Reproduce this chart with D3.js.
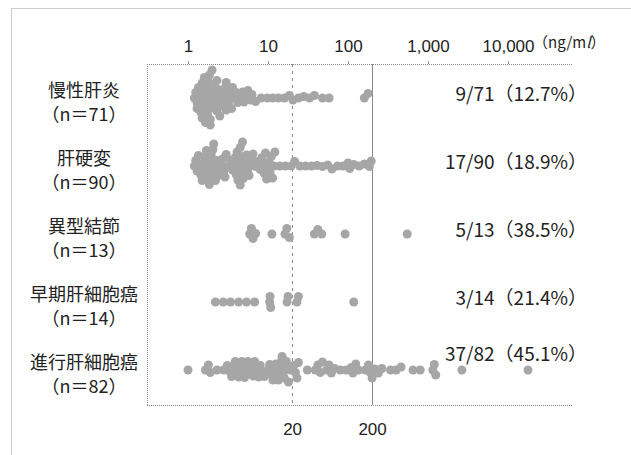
<!DOCTYPE html>
<html>
<head>
<meta charset="utf-8">
<script src="https://cdn.jsdelivr.net/npm/d3@7"></script>
<style>
  html, body { margin: 0; padding: 0; background: #fff; }
  svg { display: block; }
</style>
</head>
<body>
<svg id="chart" width="631" height="455"></svg>
<script>
// ---------------- DATA ----------------
const categories = ["慢性肝炎", "肝硬変", "異型結節", "早期肝細胞癌", "進行肝細胞癌"];
const sampleSizes = [71, 90, 13, 14, 82];
const positives = [9, 17, 5, 3, 37];
const percents = ["12.7", "18.9", "38.5", "21.4", "45.1"];
const tickValues = [1, 10, 100, 1000, 10000];
const refLines = [20, 200];
const unitLabel = "ng/ml";

const valuesChronicHepatitis = [
  1.2, 1.25, 1.3, 1.3, 1.35, 1.4, 1.45, 1.5, 1.5, 1.5, 1.55, 1.6, 1.6, 1.65, 1.7, 1.7, 1.75,
  1.8, 1.8, 1.8, 1.85, 1.9, 1.9, 2.0, 2.0, 2.0, 2.1, 2.1, 2.2, 2.3, 2.3, 2.4, 2.4, 2.5, 2.6,
  2.7, 2.8, 2.9, 3.0, 3.0, 3.1, 3.2, 3.3, 3.5, 3.6, 3.8, 4.0, 4.2, 4.5, 4.8, 5.0, 5.3, 5.6,
  6.0, 6.3,
  7.0, 8.2, 9.8, 11.5, 13.5, 16.0, 18.5,
  20.5, 24, 28, 33, 38, 48, 58, 160, 178
];
const valuesCirrhosis = [
  1.2, 1.25, 1.3, 1.35, 1.4, 1.45, 1.5, 1.55, 1.6, 1.65, 1.7, 1.7, 1.75, 1.8, 1.85, 1.9, 1.95,
  2.0, 2.0, 2.05, 2.1, 2.15, 2.2, 2.3, 2.4, 2.5, 2.6, 2.7, 2.8, 2.9,
  3.0, 3.2, 3.4, 3.6, 3.8,
  3.9, 4.0, 4.1, 4.2, 4.3, 4.4, 4.5, 4.5, 4.6, 4.7, 4.8, 4.9, 5.0, 5.2, 5.4, 5.6, 5.8, 6.0, 6.2,
  6.5, 7.0, 7.5, 8.0,
  8.4, 8.7, 9.0, 9.3, 9.6, 10, 10.3, 10.6, 11, 11.4, 11.8, 12.2,
  14, 16.5, 19.5,
  21.5, 25, 29.5, 35, 41, 48, 56,
  63, 74, 87, 100, 105, 118, 138, 160, 185, 195
];
const valuesDysplasticNodule = [5.9, 6.2, 6.5, 7.0, 11.2, 16.3, 17.2, 18.5, 38, 42, 47, 92, 550];
const valuesEarlyHCC = [2.2, 2.75, 3.4, 4.3, 5.4, 6.8, 10.5, 10.6, 10.8, 17.3, 17.8, 23, 24, 118];
const valuesAdvancedHCC = [
  1.0, 1.65, 1.8, 1.9, 2.3, 2.8,
  3.1, 3.3, 3.5, 3.7, 3.9, 4.1, 4.3, 4.5, 4.7, 4.9, 5.1, 5.3, 5.6, 5.9, 6.2, 6.5, 6.8, 7.2, 7.6, 8.0, 8.4,
  9.0,
  10, 10.5, 11, 11.5, 12, 12.5, 13, 13.5, 14, 14.5, 15, 15.5, 16, 16.5, 17, 18, 19,
  21, 22, 23, 24, 31,
  39, 42, 45, 48, 54, 58, 62,
  68, 80, 95, 110,
  115, 125, 135, 165, 180, 190, 200,
  215, 240, 265, 340, 400, 460,
  650, 800, 1150, 1200, 1250, 2650, 17800
];
const seriesValues = [valuesChronicHepatitis, valuesCirrhosis, valuesDysplasticNodule, valuesEarlyHCC, valuesAdvancedHCC];

// ---------------- LAYOUT ----------------
const W = 631, H = 455;
const frame = { left: 147, right: 573, top: 64, bottom: 405 };
const R = 4.5, COLLIDE = 5.5;
const gridGrey = "#8a8a8a", textColor = "#222";
const latin = "'Liberation Sans', Arial, sans-serif";
const cjk = "'Noto Sans CJK JP', 'Liberation Sans', sans-serif";

const svg = d3.select("#chart");

const x = d3.scaleLog().domain([1, 10000]).range([188, 508]);
const y = d3.scalePoint().domain(categories).range([98, 370]);

// outer dotted border
svg.append("rect")
  .attr("x", 11.5).attr("y", 8.5).attr("width", W + 10).attr("height", H - 6)
  .attr("fill", "none").attr("stroke", "#999").attr("stroke-width", 1)
  .attr("stroke-dasharray", "1,1");

// frame lines (top, bottom dotted; left)
const frameG = svg.append("g");
frameG.append("line").attr("x1", frame.left).attr("x2", frame.right)
  .attr("y1", frame.top + 0.5).attr("y2", frame.top + 0.5)
  .attr("stroke", gridGrey).attr("stroke-dasharray", "1,1");
frameG.append("line").attr("x1", frame.left).attr("x2", frame.right)
  .attr("y1", frame.bottom + 0.5).attr("y2", frame.bottom + 0.5)
  .attr("stroke", gridGrey).attr("stroke-dasharray", "1,1");
frameG.append("line").attr("x1", frame.left + 0.5).attr("x2", frame.left + 0.5)
  .attr("y1", frame.top).attr("y2", frame.bottom)
  .attr("stroke", gridGrey).attr("stroke-dasharray", "1,1");

// reference lines at 20 (dashed) and 200 (solid)
svg.append("g").selectAll("line").data(refLines).join("line")
  .attr("x1", d => Math.round(x(d)) + 0.5).attr("x2", d => Math.round(x(d)) + 0.5)
  .attr("y1", frame.top).attr("y2", frame.bottom)
  .attr("stroke", gridGrey).attr("stroke-width", 1)
  .attr("stroke-dasharray", (d, i) => i === 0 ? "3,4" : null);

// top axis
const topAxis = svg.append("g").attr("transform", `translate(0,${frame.top})`)
  .call(d3.axisTop(x).tickValues(tickValues).tickFormat(d3.format(",")).tickSize(3).tickPadding(9));
topAxis.select(".domain").remove();
topAxis.selectAll("line").attr("stroke", gridGrey);
topAxis.selectAll("text").attr("font-family", latin).attr("font-size", 17).attr("fill", textColor);

// unit label
const unit = svg.append("text").attr("x", x(10000) + 25).attr("y", 48)
  .attr("font-family", cjk).attr("font-size", 15).attr("fill", textColor);
unit.append("tspan").text("（" + unitLabel.slice(0, -1));
unit.append("tspan").attr("font-style", "italic").text(unitLabel.slice(-1));
unit.append("tspan").text("）");

// bottom axis labels at the reference lines
const botAxis = svg.append("g").attr("transform", `translate(0,${frame.bottom})`)
  .call(d3.axisBottom(x).tickValues(refLines).tickFormat(d3.format(",")).tickSize(0).tickPadding(18));
botAxis.select(".domain").remove();
botAxis.selectAll("text").attr("font-family", latin).attr("font-size", 17).attr("fill", textColor);

// beeswarm layout
function swarm(vals) {
  const pts = vals.map(v => ({ v, x: x(v) })).sort((a, b) => a.x - b.x);
  const placed = [];
  for (const p of pts) {
    let off = 0;
    for (let k = 0; k < 400; k++) {
      const cand = (k % 2 ? -1 : 1) * Math.ceil(k / 2) * 0.5;
      let ok = true;
      for (const q of placed) {
        const dx = q.x - p.x;
        if (Math.abs(dx) >= COLLIDE) continue;
        const dy = q.dy - cand;
        if (dx * dx + dy * dy < COLLIDE * COLLIDE) { ok = false; break; }
      }
      if (ok) { off = cand; break; }
    }
    p.dy = off;
    placed.push(p);
  }
  return pts;
}

// dots
categories.forEach((cat, i) => {
  const pts = swarm(seriesValues[i]);
  svg.append("g").selectAll("circle").data(pts).join("circle")
    .attr("cx", d => d.x)
    .attr("cy", d => y(cat) + d.dy)
    .attr("r", R)
    .attr("fill", "#a6a6a6");
});

// left labels
const leftG = svg.append("g").attr("font-family", cjk).attr("fill", textColor).attr("text-anchor", "middle");
leftG.selectAll("text.name").data(categories).join("text").attr("class", "name")
  .attr("x", 84).attr("y", d => y(d) - 9).attr("dominant-baseline", "central")
  .attr("font-size", 18).text(d => d);
leftG.selectAll("text.n").data(categories).join("text").attr("class", "n")
  .attr("x", 84).attr("y", d => y(d) + 15).attr("dominant-baseline", "central")
  .attr("font-size", 18).text((d, i) => `（n＝${sampleSizes[i]}）`);

// right ratio labels
svg.append("g").selectAll("text").data(categories).join("text")
  .attr("x", 587)
  .attr("y", (d, i) => y(d) + (d3.max(seriesValues[i]) > 1000 ? -18 : -6))
  .attr("dominant-baseline", "central")
  .attr("text-anchor", "end")
  .attr("font-family", cjk).attr("font-size", 19).attr("fill", textColor)
  .text((d, i) => `${positives[i]}/${sampleSizes[i]}（${percents[i]}%）`);
</script>
</body>
</html>
